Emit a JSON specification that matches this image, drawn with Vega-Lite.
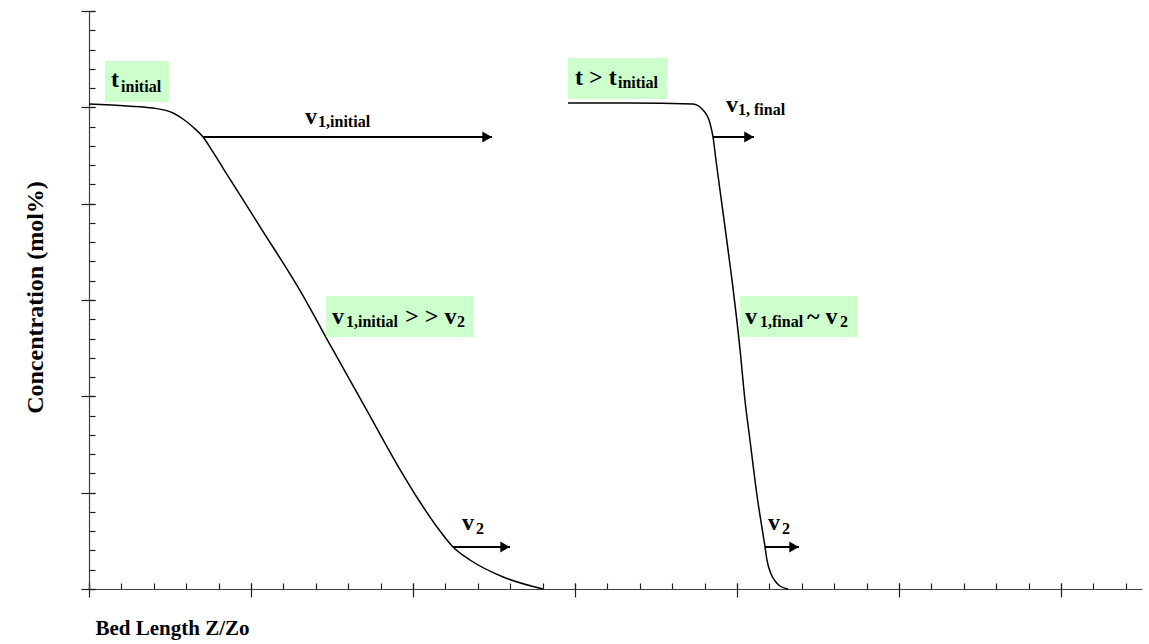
{
  "$schema": "https://vega.github.io/schema/vega-lite/v6.json",
  "width": 1053,
  "height": 578,
  "autosize": "none",
  "padding": {"left": 89, "top": 11, "right": 7, "bottom": 55},
  "background": "white",
  "config": {
    "view": {"stroke": null},
    "font": "Liberation Serif",
    "axis": {"grid": false, "labels": false, "domainColor": "#404040", "tickColor": "#202020", "domainWidth": 1.2, "tickWidth": 1.2}
  },
  "datasets": {
    "profiles": [
      {"curve": "initial", "z": 0.0, "c": 5.035},
      {"curve": "initial", "z": 0.235, "c": 5.014},
      {"curve": "initial", "z": 0.395, "c": 4.993},
      {"curve": "initial", "z": 0.519, "c": 4.941},
      {"curve": "initial", "z": 0.58, "c": 4.879},
      {"curve": "initial", "z": 0.642, "c": 4.796},
      {"curve": "initial", "z": 0.704, "c": 4.692},
      {"curve": "initial", "z": 0.765, "c": 4.537},
      {"curve": "initial", "z": 0.827, "c": 4.37},
      {"curve": "initial", "z": 1.056, "c": 3.76},
      {"curve": "initial", "z": 1.302, "c": 3.1},
      {"curve": "initial", "z": 1.5, "c": 2.5},
      {"curve": "initial", "z": 1.71, "c": 1.87},
      {"curve": "initial", "z": 1.92, "c": 1.24},
      {"curve": "initial", "z": 2.043, "c": 0.903},
      {"curve": "initial", "z": 2.148, "c": 0.644},
      {"curve": "initial", "z": 2.247, "c": 0.436},
      {"curve": "initial", "z": 2.352, "c": 0.301},
      {"curve": "initial", "z": 2.556, "c": 0.125},
      {"curve": "initial", "z": 2.802, "c": 0.0},
      {"curve": "later", "z": 2.957, "c": 5.045},
      {"curve": "later", "z": 3.34, "c": 5.045},
      {"curve": "later", "z": 3.728, "c": 5.035},
      {"curve": "later", "z": 3.79, "c": 4.972},
      {"curve": "later", "z": 3.833, "c": 4.838},
      {"curve": "later", "z": 3.852, "c": 4.692},
      {"curve": "later", "z": 3.87, "c": 4.453},
      {"curve": "later", "z": 3.92, "c": 3.831},
      {"curve": "later", "z": 3.969, "c": 3.208},
      {"curve": "later", "z": 4.019, "c": 2.481},
      {"curve": "later", "z": 4.049, "c": 1.962},
      {"curve": "later", "z": 4.08, "c": 1.547},
      {"curve": "later", "z": 4.123, "c": 0.976},
      {"curve": "later", "z": 4.173, "c": 0.436},
      {"curve": "later", "z": 4.185, "c": 0.3},
      {"curve": "later", "z": 4.21, "c": 0.155},
      {"curve": "later", "z": 4.235, "c": 0.083},
      {"curve": "later", "z": 4.265, "c": 0.031},
      {"curve": "later", "z": 4.315, "c": 0.0}
    ],
    "boxes": [
      {"x0": 0.099, "x1": 0.494, "y0": 5.056, "y1": 5.481},
      {"x0": 1.463, "x1": 2.377, "y0": 2.616, "y1": 3.042},
      {"x0": 4.019, "x1": 4.747, "y0": 2.616, "y1": 3.042},
      {"x0": 2.957, "x1": 3.568, "y0": 5.087, "y1": 5.512}
    ],
    "arrows": [
      {"from": 0.704, "to": 2.488, "c": 4.692},
      {"from": 3.852, "to": 4.105, "c": 4.692},
      {"from": 2.247, "to": 2.599, "c": 0.436},
      {"from": 4.173, "to": 4.383, "c": 0.436}
    ],
    "mainText": [
      {"label": "t", "x": 0.136, "y": 5.211},
      {"label": "t > t", "x": 3.0, "y": 5.232},
      {"label": "v", "x": 1.333, "y": 4.827},
      {"label": "v", "x": 3.932, "y": 4.952},
      {"label": "v", "x": 1.5, "y": 2.751},
      {"label": "> > v", "x": 1.951, "y": 2.751},
      {"label": "v", "x": 4.049, "y": 2.751},
      {"label": "~ v", "x": 4.432, "y": 2.751},
      {"label": "v", "x": 2.302, "y": 0.612},
      {"label": "v", "x": 4.191, "y": 0.612}
    ],
    "subText": [
      {"label": "initial", "x": 0.198, "y": 5.159},
      {"label": "initial", "x": 3.265, "y": 5.201},
      {"label": "1,initial", "x": 1.414, "y": 4.796},
      {"label": "1, final", "x": 4.006, "y": 4.921},
      {"label": "1,initial", "x": 1.586, "y": 2.72},
      {"label": "2", "x": 2.272, "y": 2.72},
      {"label": "1,final", "x": 4.142, "y": 2.72},
      {"label": "2", "x": 4.636, "y": 2.72},
      {"label": "2", "x": 2.389, "y": 0.571},
      {"label": "2", "x": 4.278, "y": 0.571}
    ]
  },
  "resolve": {"axis": {"x": "independent", "y": "independent"}},
  "layer": [
    {
      "data": {"name": "profiles"},
      "mark": {"type": "line", "color": "black", "strokeWidth": 1.5, "interpolate": "monotone"},
      "encoding": {
        "x": {
          "field": "z", "type": "quantitative",
          "scale": {"domain": [0, 6.5], "nice": false, "zero": false},
          "axis": {
            "orient": "bottom", "tickSize": -6,
            "values": [0, 0.2, 0.4, 0.6, 0.8, 1, 1.2, 1.4, 1.6, 1.8, 2, 2.2, 2.4, 2.6, 2.8, 3, 3.2, 3.4, 3.6, 3.8, 4, 4.2, 4.4, 4.6, 4.8, 5, 5.2, 5.4, 5.6, 5.8, 6, 6.2, 6.4],
            "title": "Bed Length Z/Zo", "titleFont": "Liberation Serif", "titleFontSize": 21, "titleFontWeight": "bold", "titleColor": "black",
            "titleAlign": "left", "titleAnchor": "start", "titleX": 6, "titleY": 45, "titleBaseline": "alphabetic"
          }
        },
        "y": {
          "field": "c", "type": "quantitative",
          "scale": {"domain": [0, 6], "nice": false, "zero": false},
          "axis": {
            "orient": "left", "tickSize": -6,
            "values": [0, 0.2, 0.4, 0.6, 0.8, 1, 1.2, 1.4, 1.6, 1.8, 2, 2.2, 2.4, 2.6, 2.8, 3, 3.2, 3.4, 3.6, 3.8, 4, 4.2, 4.4, 4.6, 4.8, 5, 5.2, 5.4, 5.6, 5.8, 6],
            "title": "Concentration (mol%)", "titleFont": "Liberation Serif", "titleFontSize": 24, "titleFontWeight": "bold", "titleColor": "black",
            "titleAngle": -90, "titleAlign": "center", "titleBaseline": "middle", "titleX": -54, "titleY": 286
          }
        },
        "detail": {"field": "curve"}
      }
    },
    {
      "data": {"name": "boxes"},
      "mark": {"type": "rect", "color": "#CCFFCC"},
      "encoding": {
        "x": {"field": "x0", "type": "quantitative",
          "axis": {"orient": "bottom", "offset": -6, "tickSize": 14, "domain": false, "values": [0, 1, 2, 3, 4, 5, 6], "title": null}},
        "x2": {"field": "x1"},
        "y": {"field": "y0", "type": "quantitative",
          "axis": {"orient": "left", "offset": -6, "tickSize": 14, "domain": false, "values": [0, 1, 2, 3, 4, 5, 6], "title": null}},
        "y2": {"field": "y1"}
      }
    },
    {
      "data": {"name": "arrows"},
      "mark": {"type": "rule", "color": "black", "strokeWidth": 2},
      "encoding": {
        "x": {"field": "from", "type": "quantitative", "axis": null},
        "x2": {"field": "to"},
        "y": {"field": "c", "type": "quantitative", "axis": null}
      }
    },
    {
      "data": {"name": "arrows"},
      "mark": {"type": "point", "shape": "triangle-right", "filled": true, "color": "black", "opacity": 1, "size": 120, "xOffset": -5},
      "encoding": {
        "x": {"field": "to", "type": "quantitative", "axis": null},
        "y": {"field": "c", "type": "quantitative", "axis": null}
      }
    },
    {
      "data": {"name": "mainText"},
      "mark": {"type": "text", "font": "Liberation Serif", "fontWeight": "bold", "fontSize": 24, "align": "left", "baseline": "alphabetic", "color": "black"},
      "encoding": {
        "x": {"field": "x", "type": "quantitative", "axis": null},
        "y": {"field": "y", "type": "quantitative", "axis": null},
        "text": {"field": "label"}
      }
    },
    {
      "data": {"name": "subText"},
      "mark": {"type": "text", "font": "Liberation Serif", "fontWeight": "bold", "fontSize": 16, "align": "left", "baseline": "alphabetic", "color": "black"},
      "encoding": {
        "x": {"field": "x", "type": "quantitative", "axis": null},
        "y": {"field": "y", "type": "quantitative", "axis": null},
        "text": {"field": "label"}
      }
    }
  ]
}
